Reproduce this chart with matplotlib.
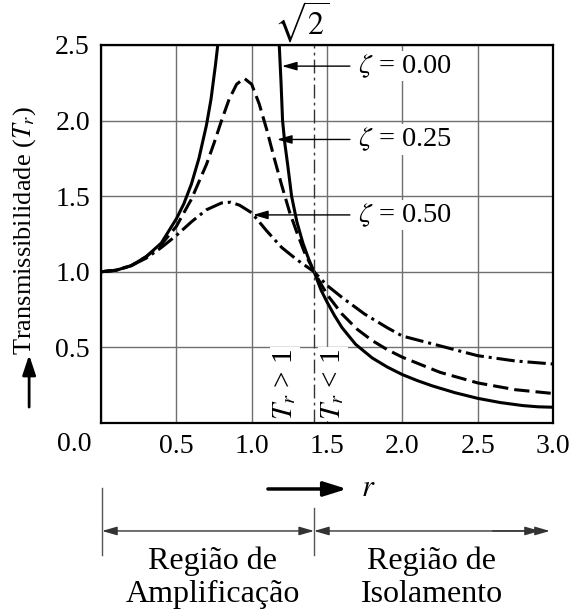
#!/usr/bin/env python3
"""
Transmissibility vs frequency ratio r for three damping ratios.
"""

import matplotlib.pyplot as plt
from matplotlib.transforms import blended_transform_factory

plt.rcParams['font.family'] = 'Liberation Serif'
plt.rcParams['mathtext.fontset'] = 'stix'
plt.rcParams['font.size'] = 20

# zeta = 0.00 (two branches, resonance at r = 1)
r_z0_left = [0.0, 0.1, 0.2, 0.3, 0.4, 0.5, 0.55, 0.6, 0.65, 0.7, 0.73, 0.76, 0.775]
tr_z0_left = [1.00, 1.01, 1.04, 1.10, 1.19, 1.35, 1.45, 1.58, 1.75, 1.97, 2.14, 2.37, 2.50]
r_z0_right = [1.183, 1.195, 1.205, 1.22, 1.24, 1.265, 1.30, 1.34, 1.38, 1.414, 1.46, 1.5,
              1.55, 1.6, 1.69, 1.8, 1.9, 2.0, 2.1, 2.2, 2.35, 2.5, 2.65, 2.8, 2.9, 3.0]
tr_z0_right = [2.50, 2.25, 2.00, 1.85, 1.70, 1.50, 1.33, 1.19, 1.08, 1.00, 0.88, 0.80,
               0.71, 0.63, 0.52, 0.43, 0.37, 0.32, 0.28, 0.245, 0.20, 0.163, 0.135, 0.115, 0.107, 0.104]

# zeta = 0.25
r_z025 = [0.0, 0.1, 0.2, 0.3, 0.4, 0.5, 0.6, 0.7, 0.75, 0.8, 0.85, 0.9, 0.95, 1.0, 1.05,
          1.1, 1.15, 1.2, 1.25, 1.3, 1.35, 1.414, 1.5, 1.6, 1.7, 1.8, 1.9, 2.0, 2.25, 2.5, 2.75, 3.0]
tr_z025 = [1.00, 1.01, 1.04, 1.10, 1.18, 1.30, 1.48, 1.71, 1.85, 2.00, 2.14, 2.24, 2.28, 2.24, 2.11,
           1.94, 1.75, 1.57, 1.40, 1.26, 1.13, 1.00, 0.85, 0.72, 0.62, 0.545, 0.485, 0.435, 0.335, 0.265, 0.22, 0.195]

# zeta = 0.50
r_z050 = [0.0, 0.1, 0.2, 0.3, 0.4, 0.5, 0.6, 0.7, 0.8, 0.86, 0.92, 1.0, 1.1, 1.2, 1.3, 1.414,
          1.5, 1.6, 1.75, 1.9, 2.0, 2.25, 2.5, 2.75, 3.0]
tr_z050 = [1.00, 1.01, 1.04, 1.09, 1.16, 1.24, 1.33, 1.41, 1.455, 1.46, 1.44, 1.39, 1.27, 1.16, 1.08, 1.00,
           0.91, 0.83, 0.72, 0.63, 0.575, 0.51, 0.445, 0.41, 0.39]

r_cross = 1.414  # sqrt(2), all curves pass through Tr = 1
x_ticks = [0.0, 0.5, 1.0, 1.5, 2.0, 2.5, 3.0]
x_labels = ['', '0.5', '1.0', '1.5', '2.0', '2.5', '3.0']
y_ticks = [0.0, 0.5, 1.0, 1.5, 2.0, 2.5]
y_labels = ['', '0.5', '1.0', '1.5', '2.0', '2.5']

fig = plt.figure(figsize=(5.69, 6.10), dpi=100)
ax = fig.add_axes([0.1775, 0.3066, 0.7944, 0.6197])

lw = 2.2
ax.plot(r_z0_left, tr_z0_left, color='k', lw=lw)
ax.plot(r_z0_right, tr_z0_right, color='k', lw=lw)
ax.plot(r_z025, tr_z025, color='k', lw=lw, linestyle=(0, (5, 2)))
ax.plot(r_z050, tr_z050, color='k', lw=lw, linestyle=(0, (6, 1.6, 1, 1.6)))
ax.axvline(r_cross, color='#333333', lw=1, linestyle=(0, (10, 3, 2, 3)))

ax.set_xlim(0, 3)
ax.set_ylim(0, 2.5)
ax.set_xticks(x_ticks)
ax.set_xticklabels(x_labels)
ax.set_yticks(y_ticks)
ax.set_yticklabels(y_labels)
ax.grid(True, color='#707070', lw=1)
ax.set_axisbelow(True)
ax.tick_params(length=0, pad=8, labelsize=20)
for s in ax.spines.values():
    s.set_linewidth(1.6)

trans = blended_transform_factory(ax.transData, ax.transAxes)

# zeta labels with arrows
lab_box = dict(fc='white', ec='none', pad=1)
arrow_thin = dict(arrowstyle='-|>,head_length=0.45,head_width=0.13', color='k', lw=1,
                  shrinkA=0, shrinkB=0)
for tip_x, y, txt in [(1.201, 2.36, r'$\zeta$ = 0.00'),
                      (1.168, 1.875, r'$\zeta$ = 0.25'),
                      (1.009, 1.376, r'$\zeta$ = 0.50')]:
    ax.annotate('', xy=(tip_x, y), xytext=(1.652, y), arrowprops=arrow_thin)
    ax.text(1.705, y, txt, ha='left', va='center', fontsize=20.5, bbox=lab_box)

ax.text(1.22, 0.258, r'$T_r$ > 1', rotation=90, ha='center', va='center', fontsize=21,
        bbox=lab_box)
ax.text(1.54, 0.258, r'$T_r$ < 1', rotation=90, ha='center', va='center', fontsize=21,
        bbox=lab_box)
ax.text(1.33, 1.061, r'$\sqrt{2}$', transform=trans, ha='center', va='center', fontsize=23)
ax.text(-0.06, -0.058, '0.0', transform=ax.transAxes, ha='center', va='center')

# y label with arrow
ax.text(-0.168, 0.51, 'Transmissibilidade ($T_r$)', rotation=90, transform=ax.transAxes,
        ha='center', va='center', fontsize=19)
ax.annotate('', xy=(-0.159, 0.18), xytext=(-0.159, 0.042), xycoords='axes fraction',
            textcoords='axes fraction', annotation_clip=False,
            arrowprops=dict(arrowstyle='-|>,head_length=0.6,head_width=0.2', color='k', lw=2,
                            shrinkA=0, shrinkB=0))

# r arrow below the axis
ax.annotate('', xy=(1.632, -0.1746), xytext=(1.108, -0.1746), xycoords=trans, textcoords=trans,
            annotation_clip=False,
            arrowprops=dict(arrowstyle='-|>,head_length=0.7,head_width=0.22', color='k', lw=2.5,
                            shrinkA=0, shrinkB=0))
ax.text(1.775, -0.1746, '$r$', transform=trans, ha='center', va='center', fontsize=22)

# region brackets
gray = '#555555'
ax.plot([0.007, 0.007], [-0.172, -0.349], transform=trans, clip_on=False, color=gray, lw=1)
ax.plot([r_cross, r_cross], [-0.225, -0.349], transform=trans, clip_on=False, color=gray, lw=1)
arrow_reg = dict(arrowstyle='<|-|>,head_length=0.45,head_width=0.13', color='#333333', lw=1,
                 shrinkA=0, shrinkB=0)
ax.annotate('', xy=(r_cross, -0.2857), xytext=(0.007, -0.2857), xycoords=trans, textcoords=trans,
            annotation_clip=False, arrowprops=arrow_reg)
ax.annotate('', xy=(2.979, -0.2857), xytext=(r_cross, -0.2857), xycoords=trans, textcoords=trans,
            annotation_clip=False, arrowprops=arrow_reg)
ax.annotate('', xy=(2.913, -0.2857), xytext=(2.6, -0.2857), xycoords=trans, textcoords=trans,
            annotation_clip=False,
            arrowprops=dict(arrowstyle='-|>,head_length=0.45,head_width=0.13', color='#333333',
                            lw=1, shrinkA=0, shrinkB=0))

ax.text(0.743, -0.386, 'Região de', transform=trans, ha='center', va='baseline', fontsize=23)
ax.text(0.743, -0.4735, 'Amplificação', transform=trans, ha='center', va='baseline', fontsize=23)
ax.text(2.196, -0.386, 'Região de', transform=trans, ha='center', va='baseline', fontsize=23)
ax.text(2.196, -0.4735, 'Isolamento', transform=trans, ha='center', va='baseline', fontsize=23)

fig.savefig('out.png', dpi=100)
